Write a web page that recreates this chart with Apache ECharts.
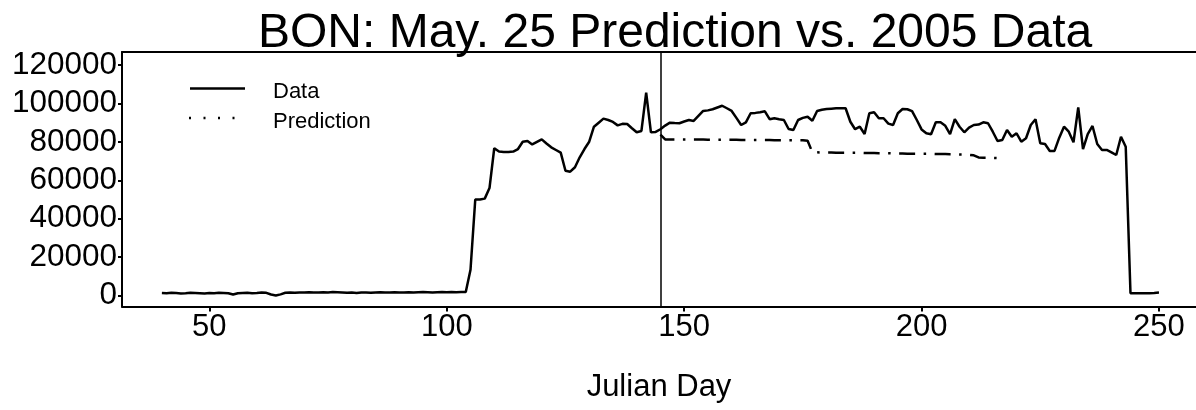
<!DOCTYPE html>
<html>
<head>
<meta charset="utf-8">
<title>BON prediction vs 2005</title>
<script src="https://cdn.jsdelivr.net/npm/echarts@6.0.0/dist/echarts.min.js"></script>
<style>
    html, body { margin: 0; padding: 0; background: #fff; }
    #chart { width: 1196px; height: 410px; }
</style>
</head>
<body>
<div id="chart"></div>
<script>
// daily counts, day 40 .. 250
const firstDay = 40;
const flowData = [
    1400, 1300, 1500, 1400, 1200, 1300, 1500, 1400, 1300, 1200,
    1400, 1300, 1500, 1400, 1300, 600, 1300, 1400, 1500, 1300,
    1400, 1600, 1500, 600,
    100, 700, 1500, 1600, 1500, 1700, 1600, 1800, 1700, 1600,
    1800, 1700, 1900, 1800, 1700, 1500, 1600, 1400, 1700, 1600,
    1500, 1700, 1800, 1600, 1700, 1800, 1700, 1600, 1800, 1700,
    1800, 1900, 1800, 1700, 1800, 1900, 1800, 1900, 1800, 1900,
    1900, 13500, 50000, 50000, 50500, 56000, 76700, 75000, 74800, 74800,
    75000, 76300, 80100, 80500, 78700, 80000, 81300, 79200, 77200, 75800,
    74400, 65000, 64500, 66800, 72000, 76300, 80100, 87900, 90000, 92100,
    91400, 90400, 88600, 89400, 89300, 87100, 85000, 85700, 105600, 85000,
    85200, 86600, 88500, 90000, 89800, 89700, 90600, 91400, 90900, 93500,
    96100, 96400, 97000, 97900, 98800, 97500, 96100, 92500, 88800, 90200,
    94900, 95100, 95400, 95900, 91800, 92300, 91800, 91400, 86700, 86200,
    91400, 92500, 93100, 91000, 96100, 96700, 97100, 97300, 97500, 97500,
    97500, 90500, 86600, 87900, 84100, 94900, 95400, 92300, 92300, 89500,
    88800, 94900, 97100, 97000, 96000, 91400, 86500, 84500, 84000, 90200,
    90200, 88400, 84100, 91900, 87900, 85000, 87400, 88800, 89000, 90200,
    89700, 85300, 80500, 81000, 86200, 82700, 84500, 80100, 81900, 88800,
    91800, 79300, 78900, 75300, 75300, 82200, 87900, 85300, 79800, 98000,
    76300, 84100, 88300, 78900, 75800, 75800, 74600, 73200, 82700, 77500,
    1300, 1300, 1300, 1300, 1300, 1400, 1600
];

// prediction, day 145 .. 217
const predFirstDay = 145;
const predData = [
    83800,
    81300, 81300, 81300, 81200, 81200, 81200, 81200, 81200, 81200, 81100,
    81100, 81100, 81100, 81100, 81100, 81100, 81000, 81000, 81000, 81000,
    81000, 81000, 81000, 80900, 80900, 80900, 80900, 80900, 80800, 80800,
    80600,
    74600, 74600, 74500, 74500, 74500, 74400, 74400, 74400, 74300, 74300,
    74300, 74200, 74200, 74200, 74100, 74100, 74100, 74000, 74000, 74000,
    73900, 73900, 73900, 73800, 73800, 73800, 73700, 73700, 73700, 73600,
    73600, 73500, 73500, 73300, 73000,
    71900, 71800, 71800, 71700, 71600, 71500
];

const cutoffDay = 145;
const xTicks = [50, 100, 150, 200, 250];
const yTicks = [0, 20000, 40000, 60000, 80000, 100000, 120000];

const fontFamily = "'Liberation Sans', Arial, sans-serif";
const chart = echarts.init(document.getElementById('chart'));

let flowPoints = flowData.map((v, i) => [firstDay + i, v]);
let predPoints = predData.map((v, i) => [predFirstDay + i, v]);

let option = {
    animation: false,
    backgroundColor: '#fff',
    title: {
        text: 'BON: May. 25 Prediction vs. 2005 Data',
        left: 253,
        top: 5,
        textStyle: {
            fontFamily: fontFamily,
            fontSize: 48,
            fontWeight: 'normal',
            color: '#000'
        }
    },
    grid: {
        left: 122,
        right: 0,
        top: 52,
        bottom: 103.5
    },
    xAxis: [{
        type: 'value',
        min: 31.6,
        max: 257.8,
        name: 'Julian Day',
        nameLocation: 'middle',
        nameGap: 65,
        nameTextStyle: {
            fontFamily: fontFamily,
            fontSize: 31,
            color: '#000'
        },
        axisLine: {
            onZero: false,
            lineStyle: { color: '#000', width: 2 }
        },
        axisTick: {
            show: true,
            length: 5,
            customValues: xTicks,
            lineStyle: { color: '#000', width: 2 }
        },
        axisLabel: {
            customValues: xTicks,
            margin: 5,
            fontFamily: fontFamily,
            fontSize: 31,
            color: '#000'
        },
        splitLine: { show: false }
    }, {
        // top edge of the box
        type: 'value',
        position: 'top',
        min: 31.6,
        max: 257.8,
        axisLine: {
            onZero: false,
            lineStyle: { color: '#000', width: 2 }
        },
        axisTick: { show: false },
        axisLabel: { show: false },
        splitLine: { show: false }
    }],
    yAxis: {
        type: 'value',
        min: -5620,
        max: 126770,
        axisLine: {
            show: true,
            onZero: false,
            lineStyle: { color: '#000', width: 2 }
        },
        axisTick: {
            show: true,
            length: 4,
            customValues: yTicks,
            lineStyle: { color: '#000', width: 2 }
        },
        axisLabel: {
            customValues: yTicks,
            margin: 5,
            padding: [7, 0, 0, 0],
            fontFamily: fontFamily,
            fontSize: 31.5,
            color: '#000',
            formatter: function(value) {
                return String(value);
            }
        },
        splitLine: { show: false }
    },
    graphic: [
        {
            type: 'line',
            shape: { x1: 190, y1: 88.5, x2: 245, y2: 88.5 },
            style: { stroke: '#000', lineWidth: 2.5 }
        },
        {
            type: 'line',
            shape: { x1: 189, y1: 118, x2: 236, y2: 118 },
            style: { stroke: '#000', lineWidth: 2.5, lineDash: [2, 12.5] }
        },
        {
            type: 'text',
            x: 273,
            y: 92,
            style: {
                text: 'Data',
                fontFamily: fontFamily,
                fontSize: 22,
                fill: '#000',
                verticalAlign: 'middle'
            }
        },
        {
            type: 'text',
            x: 273,
            y: 122,
            style: {
                text: 'Prediction',
                fontFamily: fontFamily,
                fontSize: 22,
                fill: '#000',
                verticalAlign: 'middle'
            }
        }
    ],
    series: [{
        name: 'Data',
        type: 'line',
        data: flowPoints,
        showSymbol: false,
        symbol: 'none',
        lineStyle: { color: '#000', width: 2.5 },
        markLine: {
            silent: true,
            symbol: 'none',
            label: { show: false },
            lineStyle: { color: '#000', width: 1.5, type: 'solid' },
            data: [{ xAxis: cutoffDay }]
        }
    }, {
        name: 'Prediction',
        type: 'line',
        data: predPoints,
        showSymbol: false,
        symbol: 'none',
        lineStyle: { color: '#000', width: 2.5, type: [16, 8.5, 2.5, 8.5] }
    }]
};
chart.setOption(option, true);
</script>
</body>
</html>
